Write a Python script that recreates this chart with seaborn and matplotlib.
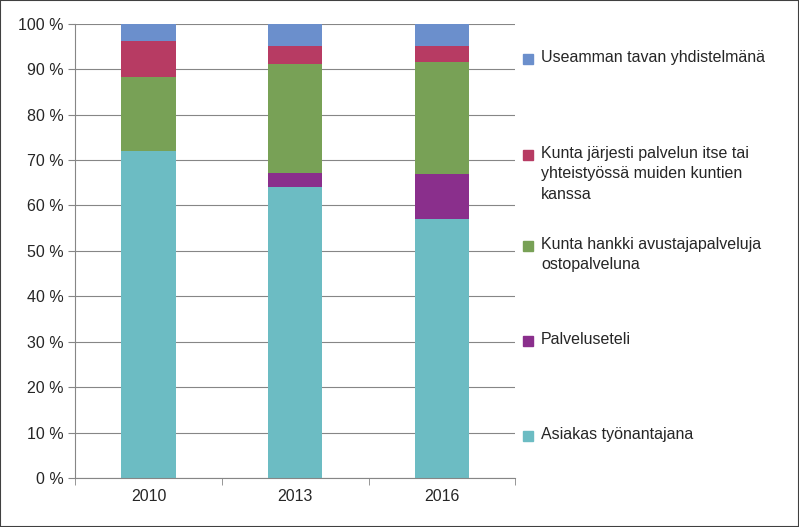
import matplotlib
matplotlib.use("Agg")
import matplotlib.pyplot as plt
import seaborn as sns
import numpy as np

years = ["2010", "2013", "2016"]
asiakas = [72.0, 64.0, 57.0]
seteli = [0.0, 3.2, 10.0]
hankki = [16.3, 24.0, 24.5]
jarjesti = [8.0, 3.8, 3.5]
useamman = [3.7, 5.0, 5.0]

labels = ["Asiakas työnantajana", "Palveluseteli",
          "Kunta hankki avustajapalveluja\nostopalveluna",
          "Kunta järjesti palvelun itse tai\nyhteistyössä muiden kuntien\nkanssa",
          "Useamman tavan yhdistelmänä"]
series = [asiakas, seteli, hankki, jarjesti, useamman]
colors = ["#6cbcc3", "#8a2f8c", "#78a156", "#b73b63", "#6b8fcc"]

sns.set_style("white")
plt.rcParams["font.family"] = "Liberation Sans"
W, H = 799, 527
fig = plt.figure(figsize=(W / 100, H / 100), dpi=100)
ax = fig.add_axes([0.094, 0.093, 0.551, 0.862])
bottom = np.zeros(3)
for vals, c in zip(series, colors):
    sns.barplot(x=years, y=vals, bottom=bottom, color=c, width=0.37, ax=ax,
                linewidth=0, saturation=1)
    bottom += np.array(vals)

ax.set_ylim(0, 100)
ax.set_xlim(-0.5, 2.5)
ax.set_yticks(range(0, 101, 10))
ax.set_yticklabels([f"{v} %" for v in range(0, 101, 10)], fontsize=11.5)
ax.tick_params(axis="x", labelsize=11.5)
ax.yaxis.grid(True, color="#868686", linewidth=0.8)
ax.set_axisbelow(True)
for s in ["top", "right"]:
    ax.spines[s].set_visible(False)
ax.spines["left"].set_color("#868686")
ax.spines["bottom"].set_color("#868686")
ax.tick_params(axis="y", left=True, length=5, color="#868686")
ax.set_xticks([-0.5, 0.5, 1.5, 2.5], minor=True)
ax.tick_params(axis="x", which="major", length=0, pad=8)
ax.tick_params(axis="x", which="minor", bottom=True, length=5, color="#868686")

# legend, drawn by hand to keep Excel-like spacing
centers = [436, 341, 246, 155, 59]
for lab, c, yc in zip(labels, colors, centers):
    fig.patches.append(plt.Rectangle((523 / W, 1 - (yc + 5) / H), 10 / W, 10 / H,
                                     transform=fig.transFigure, color=c))
    fig.text(541 / W, 1 - (yc - 9) / H, lab, va="top", ha="left",
             fontsize=11.5, linespacing=1.45)

fig.patches.append(plt.Rectangle((0, 0), 1, 1, transform=fig.transFigure,
                                 fill=False, edgecolor="#404040", linewidth=1.5))
fig.savefig("out.png", dpi=100)
